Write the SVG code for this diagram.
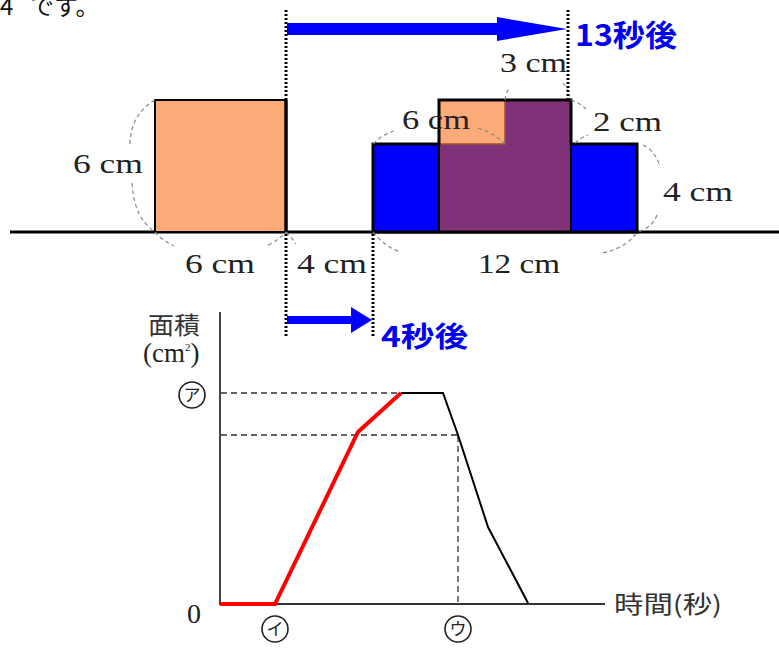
<svg xmlns="http://www.w3.org/2000/svg" width="779" height="655" viewBox="0 0 779 655">
<style>
.serif{font-family:"Liberation Serif","DejaVu Serif",serif;fill:#222;font-size:27px}
.jp{font-family:"Noto Sans CJK JP",sans-serif;fill:#333}
.blue{font-family:"Noto Sans CJK JP",sans-serif;fill:#0000ee;font-weight:bold}
.dim{fill:none;stroke:#888;stroke-width:1.2;stroke-dasharray:4 3}
.dot{stroke:#000;stroke-width:3;stroke-dasharray:2 2;fill:none}
.dash{stroke:#333;stroke-width:1.3;stroke-dasharray:6 4;fill:none}
.circ{fill:none;stroke:#222;stroke-width:1.6}
.kana{font-family:"Noto Sans CJK JP",sans-serif;fill:#222;font-size:17px}
</style>
<rect width="779" height="655" fill="#fff"/>
<g id="caption" font-family="Noto Sans CJK JP,sans-serif" font-size="24" fill="#111">
<text x="0" y="15">4</text>
<text x="30" y="15">です。</text>
</g>

<g id="ground"><line x1="10" y1="232" x2="779" y2="232" stroke="#000" stroke-width="3"/></g>

<g id="square">
<rect x="155" y="100" width="131" height="132" fill="#fbaa78" stroke="#000" stroke-width="2"/>
<line x1="286" y1="100" x2="286" y2="232" stroke="#000" stroke-width="3.5"/>
</g>

<g id="figure">
<rect x="373" y="144" width="264" height="88" fill="#0000ff"/>
<rect x="439" y="100" width="132" height="132" fill="#7f3278"/>
<rect x="439" y="100" width="66" height="44" fill="#fbaa78"/>
<path d="M505,100 V144 H439" fill="none" stroke="#a0522d" stroke-width="1.5"/>
<path d="M373,232 V144 H439 V100 H571 V144 H637 V232 Z" fill="none" stroke="#000" stroke-width="3"/>
<line x1="439" y1="144" x2="439" y2="232" stroke="#000" stroke-width="2"/>
<line x1="571" y1="144" x2="571" y2="232" stroke="#000" stroke-width="2"/>
</g>

<g id="dimensions">
<path class="dim" d="M155,100 Q130,115 130,145"/>
<path class="dim" d="M132,183 Q134,218 155,232"/>
<path class="dim" d="M155,232 Q163,241 174,246"/>
<path class="dim" d="M268,245 Q279,240 286,232"/>
<path class="dim" d="M286,232 Q292,238 296,244"/>
<path class="dim" d="M373,232 Q384,246 400,252"/>
<path class="dim" d="M603,253 Q628,247 637,232"/>
<path class="dim" d="M643,145 Q655,151 659,164"/>
<path class="dim" d="M657,215 Q652,228 637,232"/>
<path class="dim" d="M373,144 Q383,134 394,131"/>
<path class="dim" d="M478,128 Q494,133 505,144"/>
<path class="dim" d="M505,100 Q506,92 510,87"/>
<path class="dim" d="M563,83 Q567,88 570,96"/>
<path class="dim" d="M571,100 Q580,103 586,109"/>
<path class="dim" d="M575,143 Q580,138 588,135"/>
</g>

<g id="labels">
<text class="serif" x="73" y="173" textLength="70" lengthAdjust="spacingAndGlyphs">6 cm</text>
<text class="serif" x="185" y="273" textLength="70" lengthAdjust="spacingAndGlyphs">6 cm</text>
<text class="serif" x="297" y="273" textLength="70" lengthAdjust="spacingAndGlyphs">4 cm</text>
<text class="serif" x="478" y="273" textLength="82" lengthAdjust="spacingAndGlyphs">12 cm</text>
<text class="serif" x="663" y="201" textLength="70" lengthAdjust="spacingAndGlyphs">4 cm</text>
<text class="serif" x="402" y="129" textLength="68" lengthAdjust="spacingAndGlyphs">6 cm</text>
<text class="serif" x="593" y="131" textLength="69" lengthAdjust="spacingAndGlyphs">2 cm</text>
<text class="serif" x="500" y="72" textLength="67" lengthAdjust="spacingAndGlyphs">3 cm</text>
</g>

<g id="motion">
<line class="dot" x1="286" y1="10" x2="286" y2="100"/>
<line class="dot" x1="568" y1="10" x2="568" y2="100"/>
<line class="dot" x1="286" y1="234" x2="286" y2="336"/>
<line class="dot" x1="373" y1="234" x2="373" y2="336"/>
<path d="M287,23 H497 V17 L567,29 L497,41 V35 H287 Z" fill="#0000ff"/>
<path d="M287,316 H351 V307 L372,320 L351,333 V324 H287 Z" fill="#0000ff"/>
<text class="blue" x="575" y="46" font-size="30" textLength="102" lengthAdjust="spacingAndGlyphs">13秒後</text>
<text class="blue" x="381" y="347" font-size="28" textLength="87" lengthAdjust="spacingAndGlyphs">4秒後</text>
</g>

<g id="graph">
<line x1="220" y1="312" x2="220" y2="605" stroke="#444" stroke-width="2"/>
<line x1="220" y1="604" x2="605" y2="604" stroke="#333" stroke-width="2"/>
<line class="dash" x1="221" y1="393" x2="400" y2="393"/>
<line class="dash" x1="221" y1="435" x2="458" y2="435"/>
<line class="dash" x1="458" y1="436" x2="458" y2="603" stroke-width="2"/>
<polyline points="401,393 443,393 458,435 488,527 528,603" fill="none" stroke="#000" stroke-width="2"/>
<polyline points="220,604 275,604 358,432 401,393" fill="none" stroke="#f00" stroke-width="4"/>
<text class="jp" x="148" y="334" font-size="24" textLength="52" lengthAdjust="spacingAndGlyphs">面積</text>
<text class="serif" x="143" y="362" font-size="25">(cm<tspan dy="-11" font-size="11">2</tspan><tspan dy="11">)</tspan></text>
<text class="serif" x="187" y="623" font-size="27" textLength="14" lengthAdjust="spacingAndGlyphs">0</text>
<circle class="circ" cx="192" cy="395" r="13"/>
<text class="kana" x="192" y="401" text-anchor="middle">ア</text>
<circle class="circ" cx="275" cy="629" r="13"/>
<text class="kana" x="275" y="635" text-anchor="middle">イ</text>
<circle class="circ" cx="458" cy="629" r="13"/>
<text class="kana" x="458" y="635" text-anchor="middle">ウ</text>
<text class="jp" x="614" y="613" font-size="24" textLength="108" lengthAdjust="spacingAndGlyphs">時間(秒)</text>
</g>
</svg>
